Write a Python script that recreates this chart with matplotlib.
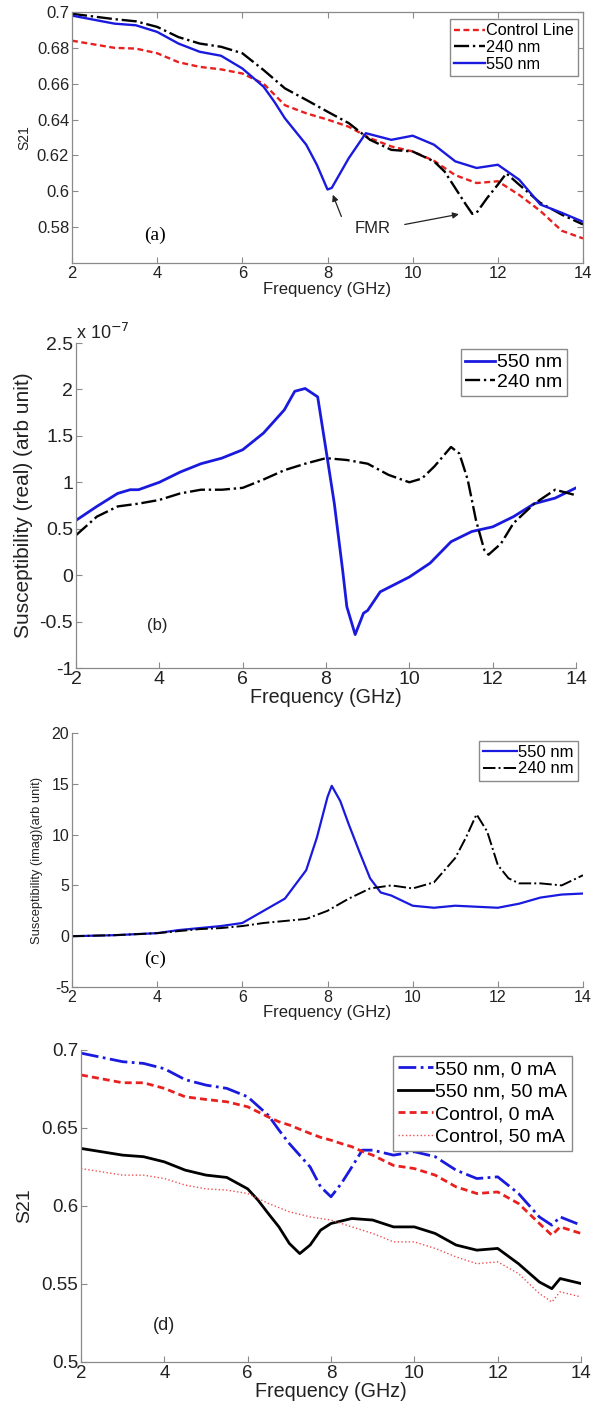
import matplotlib
matplotlib.use('Agg')
import matplotlib.pyplot as plt
from matplotlib.ticker import FuncFormatter

plt.rcParams['font.family'] = ['Liberation Sans', 'DejaVu Sans']

# ---------------- (a) S21 transmission, three lines ----------------
f_ctrl_a = [2, 3, 3.5, 4, 4.5, 5, 5.5, 6, 6.5, 7, 7.5, 8, 8.5, 9, 9.5, 10, 10.5, 11, 11.5, 12, 12.5, 13, 13.5, 14]
s21_ctrl_a = [0.684, 0.680, 0.6796, 0.677, 0.672, 0.6694, 0.668, 0.6657, 0.660, 0.648, 0.6435, 0.640, 0.636,
              0.6296, 0.625, 0.6222, 0.617, 0.609, 0.6046, 0.6056, 0.598, 0.589, 0.578, 0.5737]

f_240_a = [2, 3, 3.5, 4, 4.5, 5, 5.5, 6, 6.5, 7, 7.5, 8, 8.5, 9, 9.5, 10, 10.5, 10.75, 11, 11.25, 11.4, 11.5,
           11.75, 12, 12.2, 12.5, 13, 13.5, 14]
s21_240_a = [0.699, 0.696, 0.6948, 0.6917, 0.686, 0.6824, 0.6806, 0.677, 0.6676, 0.6574, 0.651, 0.6444, 0.638,
             0.6287, 0.6231, 0.6222, 0.6167, 0.611, 0.6018, 0.5926, 0.5874, 0.588, 0.5963, 0.6037, 0.610, 0.6037,
             0.5935, 0.587, 0.5815]

f_550_a = [2, 3, 3.5, 4, 4.5, 5, 5.5, 6, 6.5, 6.75, 7, 7.5, 7.75, 8, 8.1, 8.5, 8.9, 9.5, 10, 10.5, 11, 11.5, 12,
           12.5, 13, 13.5, 14]
s21_550_a = [0.698, 0.6935, 0.6926, 0.6889, 0.6824, 0.6778, 0.6756, 0.6685, 0.6583, 0.650, 0.6407, 0.626, 0.6148,
             0.601, 0.6019, 0.6185, 0.6324, 0.6287, 0.631, 0.626, 0.6167, 0.613, 0.6148, 0.6065, 0.5926, 0.588, 0.583]

# ---------------- (b) real susceptibility (x 1e-7) ----------------
f_550_b = [2, 2.5, 3, 3.3, 3.5, 4, 4.5, 5, 5.5, 6, 6.5, 7, 7.25, 7.5, 7.8, 8.0, 8.2, 8.4, 8.5, 8.7, 8.9, 9.0, 9.3,
           10, 10.5, 11, 11.5, 12, 12.5, 13, 13.5, 14]
chi_re_550 = [0.59, 0.74, 0.88, 0.92, 0.92, 1.0, 1.11, 1.2, 1.26, 1.35, 1.53, 1.78, 1.98, 2.01, 1.92, 1.35, 0.77,
              0.05, -0.34, -0.64, -0.41, -0.38, -0.18, -0.02, 0.13, 0.36, 0.47, 0.52, 0.63, 0.77, 0.83, 0.94]

f_240_b = [2, 2.5, 3, 3.5, 4, 4.5, 5, 5.5, 6, 6.5, 7, 7.5, 8, 8.5, 9, 9.5, 10, 10.3, 10.6, 11, 11.2, 11.4, 11.6,
           11.8, 11.9, 12.2, 12.5, 13, 13.5, 14]
chi_re_240 = [0.43, 0.63, 0.74, 0.77, 0.81, 0.88, 0.92, 0.92, 0.94, 1.03, 1.13, 1.2, 1.26, 1.24, 1.2, 1.08, 1.0,
              1.04, 1.17, 1.38, 1.31, 1.03, 0.59, 0.27, 0.22, 0.34, 0.56, 0.77, 0.92, 0.86]

# ---------------- (c) imaginary susceptibility ----------------
f_550_c = [2, 3, 4, 4.5, 5, 5.5, 6, 6.5, 7, 7.5, 7.75, 8.0, 8.1, 8.3, 8.5, 8.75, 9.0, 9.25, 9.5, 10, 10.5, 11,
           11.5, 12, 12.5, 13, 13.5, 14]
chi_im_550 = [0.0, 0.1, 0.3, 0.6, 0.8, 1.0, 1.3, 2.5, 3.7, 6.5, 9.7, 13.7, 14.8, 13.3, 11.0, 8.3, 5.7, 4.3, 4.0,
              3.0, 2.8, 3.0, 2.9, 2.8, 3.2, 3.8, 4.1, 4.2]

f_240_c = [2, 3, 4, 5, 5.5, 6, 6.5, 7, 7.5, 8, 8.5, 9, 9.5, 10, 10.5, 11, 11.25, 11.5, 11.75, 12, 12.25, 12.5,
           13, 13.5, 14]
chi_im_240 = [0.0, 0.1, 0.3, 0.7, 0.8, 1.0, 1.3, 1.5, 1.7, 2.5, 3.7, 4.7, 5.0, 4.7, 5.3, 7.7, 9.7, 12.0, 10.3,
              7.0, 5.7, 5.2, 5.2, 5.0, 6.0]

# ---------------- (d) S21 with and without current ----------------
f_d = [2, 3, 3.5, 4, 4.5, 5, 5.5, 6, 6.5, 6.75, 7, 7.5, 7.75, 8, 8.25, 8.5, 8.75, 9, 9.5, 10, 10.5, 11, 11.5, 12,
       12.5, 13, 13.3, 13.5, 14]
s21_550_0mA = [0.698, 0.6925, 0.6914, 0.688, 0.681, 0.6775, 0.6754, 0.670, 0.658, 0.6487, 0.640, 0.625, 0.6123,
               0.6059, 0.6145, 0.625, 0.6358, 0.6358, 0.6326, 0.6348, 0.6316, 0.623, 0.6176, 0.6187, 0.608, 0.593,
               0.5877, 0.593, 0.5877]
s21_ctrl_0mA = [0.684, 0.679, 0.679, 0.6754, 0.670, 0.6683, 0.6668, 0.6636, 0.657, 0.654, 0.6519, 0.6465, 0.644,
                0.6422, 0.640, 0.638, 0.635, 0.6326, 0.626, 0.624, 0.6198, 0.6123, 0.608, 0.609, 0.6016, 0.5888,
                0.5813, 0.5866, 0.5824]

f_550_50 = [2, 3, 3.5, 4, 4.5, 5, 5.5, 6, 6.25, 6.5, 6.75, 7.0, 7.25, 7.5, 7.75, 8.0, 8.5, 9, 9.5, 10, 10.5, 11,
            11.5, 12, 12.5, 13, 13.3, 13.5, 14]
s21_550_50mA = [0.6369, 0.6326, 0.6316, 0.6283, 0.623, 0.6198, 0.6183, 0.611, 0.6037, 0.595, 0.5866, 0.576,
                0.5695, 0.575, 0.5845, 0.5888, 0.592, 0.591, 0.5866, 0.5866, 0.5824, 0.575, 0.5717, 0.5728, 0.563,
                0.5513, 0.547, 0.5535, 0.5503]

f_ctrl_50 = [2, 3, 3.5, 4, 4.5, 5, 5.5, 6, 6.5, 7, 7.5, 8, 8.5, 9, 9.5, 10, 10.5, 11, 11.5, 12, 12.5, 13, 13.3,
             13.5, 14]
s21_ctrl_50mA = [0.624, 0.6198, 0.6198, 0.6176, 0.6134, 0.611, 0.6102, 0.608, 0.6016, 0.5963, 0.593, 0.591,
                 0.5866, 0.5824, 0.577, 0.577, 0.5728, 0.5674, 0.563, 0.5642, 0.5567, 0.5439, 0.5385, 0.545, 0.5417]

freq_ticks = [2, 4, 6, 8, 10, 12, 14]

W, H = 594, 1409
fig = plt.figure(figsize=(W / 100, H / 100), dpi=100)
TXT = '#222222'


def px_axes(left, right, top, bottom):
    return fig.add_axes([left / W, 1 - bottom / H, (right - left) / W, (bottom - top) / H])


def matlab_style(ax, fs, box=False):
    for side in ['left', 'bottom', 'top', 'right']:
        ax.spines[side].set_color('#8a8a8a')
        ax.spines[side].set_linewidth(0.9)
    if not box:
        ax.spines['top'].set_visible(False)
        ax.spines['right'].set_visible(False)
    ax.tick_params(direction='in', length=4, width=0.8, color='#8a8a8a', labelsize=fs,
                   labelcolor=TXT, top=box, right=box, pad=2)
    ax.xaxis.set_major_formatter(FuncFormatter(lambda v, p: '%g' % v))
    ax.yaxis.set_major_formatter(FuncFormatter(lambda v, p: '%g' % v))
    ax.set_xlim(2, 14)
    ax.set_xticks(freq_ticks)


legend_kw = dict(fancybox=False, framealpha=1, edgecolor='#8a8a8a', borderpad=0.25, labelspacing=0.1,
                 handletextpad=0.1, borderaxespad=0.3)

# (a)
ax = px_axes(72, 583, 12, 263)
matlab_style(ax, 12, box=True)
ax.plot(f_ctrl_a, s21_ctrl_a, color='#e8201f', ls=(0, (2.5, 1.5)), lw=1.7, label='Control Line')
ax.plot(f_240_a, s21_240_a, color='black', ls='-.', lw=1.7, label='240 nm')
ax.plot(f_550_a, s21_550_a, color='#1a1adf', ls='-', lw=1.7, label='550 nm')
ax.set_ylim(0.56, 0.70)
ax.set_yticks([0.58, 0.60, 0.62, 0.64, 0.66, 0.68, 0.70])
ax.set_xlabel('Frequency (GHz)', fontsize=12, color=TXT, labelpad=1)
ax.set_ylabel('S21', fontsize=10, color=TXT)
ax.yaxis.set_label_coords(-0.08, 0.5)
ax.legend(loc='upper right', fontsize=11.7, handlelength=1.9, bbox_to_anchor=(1.0, 0.99), **legend_kw)
ax.text(9.05, 0.5795, 'FMR', fontsize=12, ha='center', va='center', color=TXT)
ax.annotate('', xy=(8.1, 0.5995), xytext=(8.35, 0.5845),
            arrowprops=dict(arrowstyle='-|>', color=TXT, lw=0.9, mutation_scale=9))
ax.annotate('', xy=(11.15, 0.5875), xytext=(9.75, 0.5812),
            arrowprops=dict(arrowstyle='-|>', color=TXT, lw=0.9, mutation_scale=9))
ax.text(3.96, 0.5755, '(a)', fontsize=14, family='Liberation Serif', ha='center', va='center')

# (b)
ax = px_axes(76, 576, 343, 668)
matlab_style(ax, 14)
ax.plot(f_550_b, chi_re_550, color='#1a1adf', ls='-', lw=2.0, label='550 nm')
ax.plot(f_240_b, chi_re_240, color='black', ls='-.', lw=1.7, label='240 nm')
ax.set_ylim(-1, 2.5)
ax.set_yticks([-1, -0.5, 0, 0.5, 1, 1.5, 2, 2.5])
ax.set_xlabel('Frequency (GHz)', fontsize=14.2, color=TXT, labelpad=0)
ax.set_ylabel('Susceptibility (real) (arb unit)', fontsize=15, color=TXT)
ax.yaxis.set_label_coords(-0.086, 0.5)
ax.text(0.0, 1.0, 'x 10$^{-7}$', transform=ax.transAxes, fontsize=13, color=TXT,
        ha='left', va='bottom')
ax.legend(loc='upper right', fontsize=14, handlelength=1.5, bbox_to_anchor=(0.993, 1.0), **legend_kw)
ax.text(3.96, -0.54, '(b)', fontsize=12, ha='center', va='center', color=TXT)

# (c)
ax = px_axes(72, 583, 733, 987)
matlab_style(ax, 11.5)
ax.plot(f_550_c, chi_im_550, color='#1a1adf', ls='-', lw=1.6, label='550 nm')
ax.plot(f_240_c, chi_im_240, color='black', ls='-.', lw=1.4, label='240 nm')
ax.set_ylim(-5, 20)
ax.set_yticks([-5, 0, 5, 10, 15, 20])
ax.set_xlabel('Frequency (GHz)', fontsize=12, color=TXT, labelpad=0)
ax.set_ylabel('Susceptibility (imag)(arb unit)', fontsize=9.3, color=TXT)
ax.yaxis.set_label_coords(-0.057, 0.5)
ax.legend(loc='upper right', fontsize=12, handlelength=2.0, bbox_to_anchor=(1.0, 0.99), **legend_kw)
ax.text(3.96, -2.3, '(c)', fontsize=14, family='Liberation Serif', ha='center', va='center')

# (d)
ax = px_axes(81, 581, 1050, 1362)
matlab_style(ax, 13.5)
ax.plot(f_d, s21_550_0mA, color='#1a1adf', ls='-.', lw=2.0, label='550 nm, 0 mA')
ax.plot(f_550_50, s21_550_50mA, color='black', ls='-', lw=2.0, label='550 nm, 50 mA')
ax.plot(f_d, s21_ctrl_0mA, color='#e8201f', ls=(0, (2.5, 1.5)), lw=2.0, label='Control, 0 mA')
ax.plot(f_ctrl_50, s21_ctrl_50mA, color='#f05050', ls=':', lw=1.0, label='Control, 50 mA')
ax.set_ylim(0.5, 0.7)
ax.set_yticks([0.5, 0.55, 0.6, 0.65, 0.7])
ax.set_xlabel('Frequency (GHz)', fontsize=14.2, color=TXT, labelpad=0)
ax.set_ylabel('S21', fontsize=14, color=TXT)
ax.yaxis.set_label_coords(-0.096, 0.5)
ax.legend(loc='upper right', fontsize=14, handlelength=1.8, bbox_to_anchor=(0.993, 1.0),
          **dict(legend_kw, labelspacing=0.25))
ax.text(3.99, 0.5235, '(d)', fontsize=13, ha='center', va='center', color=TXT)

fig.savefig('out.png', dpi=100)
